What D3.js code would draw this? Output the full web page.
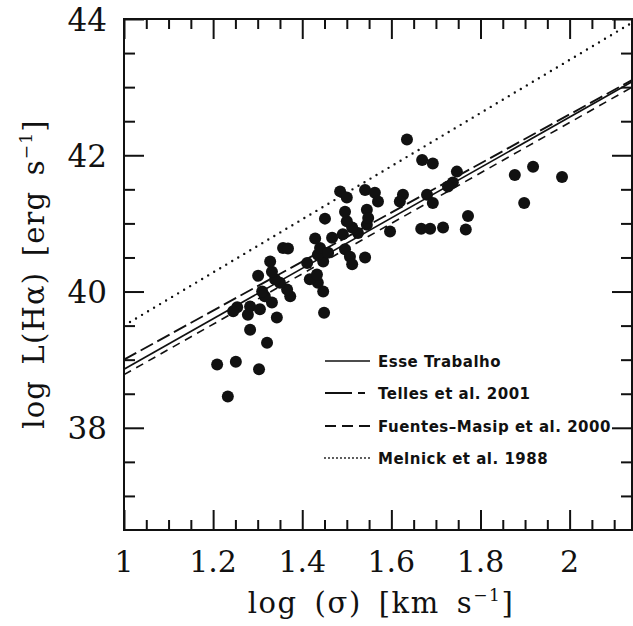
<!DOCTYPE html>
<html>
<head>
<meta charset="utf-8">
<script src="https://cdn.jsdelivr.net/npm/d3@7"></script>
<style>
  html, body { margin: 0; padding: 0; background: #fff; }
  svg { display: block; }
</style>
</head>
<body>
<svg id="chart" width="633" height="626"></svg>
<script>
// Hα luminosity versus velocity dispersion (log-log), with published fits.
const logSigma = [
  1.233, 1.209, 1.251, 1.303, 1.321, 1.283, 1.343, 1.278, 1.283, 1.254,
  1.245, 1.305, 1.332, 1.316, 1.310, 1.373, 1.366, 1.350, 1.339, 1.332,
  1.301, 1.328, 1.357, 1.368, 1.449, 1.447, 1.435, 1.417, 1.433, 1.411,
  1.447, 1.435, 1.440, 1.458, 1.429, 1.467, 1.491, 1.496, 1.507, 1.512,
  1.541, 1.525, 1.512, 1.500, 1.451, 1.545, 1.496, 1.545, 1.548, 1.485,
  1.500, 1.541, 1.563, 1.570, 1.597, 1.626, 1.619, 1.680, 1.693, 1.635,
  1.669, 1.693, 1.747, 1.738, 1.727, 1.667, 1.687, 1.716, 1.767, 1.772,
  1.877, 1.918, 1.983, 1.898
];
const logLHa = [
  38.46, 38.93, 38.97, 38.86, 39.25, 39.44, 39.62, 39.66, 39.78, 39.77,
  39.71, 39.74, 39.84, 39.93, 40.00, 39.93, 40.03, 40.13, 40.18, 40.29,
  40.23, 40.44, 40.64, 40.63, 39.69, 40.00, 40.13, 40.18, 40.25, 40.42,
  40.44, 40.54, 40.64, 40.57, 40.78, 40.79, 40.84, 40.62, 40.51, 40.40,
  40.50, 40.86, 40.94, 41.03, 41.07, 40.98, 41.17, 41.20, 41.08, 41.47,
  41.38, 41.49, 41.45, 41.32, 40.88, 41.42, 41.32, 41.42, 41.30, 42.23,
  41.93, 41.88, 41.76, 41.60, 41.54, 40.92, 40.92, 40.94, 40.91, 41.11,
  41.71, 41.83, 41.68, 41.30
];

// Linear fits: log L = slope * log sigma + intercept
const fitNames = ["Esse Trabalho", "Telles et al. 2001", "Fuentes–Masip et al. 2000", "Melnick et al. 1988"];
const fitSlopes = [3.70, 3.60, 3.70, 3.90];
const fitIntercepts = [35.16, 35.40, 35.08, 35.60];

const xTickLabels = [1, 1.2, 1.4, 1.6, 1.8, 2];
const yTickLabels = [38, 40, 42, 44];

// --- layout ---
const svg = d3.select("#chart");
const L = 124, R = 632, T = 19, B = 530;
const x = d3.scaleLinear().domain([1, 2.14]).range([L, R]);
const y = d3.scaleLinear().domain([36.5, 44]).range([B, T]);
const ink = "#111";

svg.append("rect").attr("width", 633).attr("height", 626).attr("fill", "#fff");

svg.append("clipPath").attr("id", "plotClip")
  .append("rect").attr("x", L).attr("y", T).attr("width", R - L).attr("height", B - T);

// line styles for each fit
const fitStyles = [
  { dash: null, width: 1.6, cap: "butt" },
  { dash: "14,5", width: 1.9, cap: "butt" },
  { dash: "8,6", width: 1.6, cap: "butt" },
  { dash: "0,7", width: 2.4, cap: "round" }
];
const legendDash = [null, "27,6,7,200", "11,6", "0,4"];
const legendWidth = [1.4, 2, 1.8, 1.8];

// fit lines
const plot = svg.append("g").attr("clip-path", "url(#plotClip)");
const xs = [1, 2.14];
fitNames.forEach((name, i) => {
  const line = d3.line().x(d => x(d)).y(d => y(fitSlopes[i] * d + fitIntercepts[i]));
  plot.append("path")
    .attr("d", line(xs))
    .attr("fill", "none")
    .attr("stroke", ink)
    .attr("stroke-width", fitStyles[i].width)
    .attr("stroke-linecap", fitStyles[i].cap)
    .attr("stroke-dasharray", fitStyles[i].dash);
});

// data points
plot.selectAll("circle.pt")
  .data(d3.range(logSigma.length))
  .join("circle")
  .attr("class", "pt")
  .attr("cx", i => x(logSigma[i]))
  .attr("cy", i => y(logLHa[i]))
  .attr("r", 6)
  .attr("fill", ink);

// --- axes: ticks on all four sides, pointing inward ---
const xMajor = xTickLabels;
const xMinor = d3.range(1.05, 2.14, 0.05).filter(v => Math.abs(v * 5 - Math.round(v * 5)) > 1e-6);
const yMajor = yTickLabels;
const yMinor = d3.range(37, 44, 0.5).filter(v => Math.abs(v / 2 - Math.round(v / 2)) > 1e-6);

function styleAxis(g) {
  g.select(".domain").remove();
  g.selectAll(".tick line").attr("stroke", ink).attr("stroke-width", 2);
}

// bottom
svg.append("g").attr("transform", `translate(0,${B})`)
  .call(d3.axisTop(x).tickValues(xMinor).tickSize(10).tickFormat(""))
  .call(styleAxis);
svg.append("g").attr("transform", `translate(0,${B})`)
  .call(d3.axisTop(x).tickValues(xMajor).tickSize(20).tickFormat(""))
  .call(styleAxis);
// top
svg.append("g").attr("transform", `translate(0,${T})`)
  .call(d3.axisBottom(x).tickValues(xMinor).tickSize(10).tickFormat(""))
  .call(styleAxis);
svg.append("g").attr("transform", `translate(0,${T})`)
  .call(d3.axisBottom(x).tickValues(xMajor).tickSize(20).tickFormat(""))
  .call(styleAxis);
// left
svg.append("g").attr("transform", `translate(${L},0)`)
  .call(d3.axisRight(y).tickValues(yMinor).tickSize(11).tickFormat(""))
  .call(styleAxis);
svg.append("g").attr("transform", `translate(${L},0)`)
  .call(d3.axisRight(y).tickValues(yMajor).tickSize(20).tickFormat(""))
  .call(styleAxis);
// right
svg.append("g").attr("transform", `translate(${R},0)`)
  .call(d3.axisLeft(y).tickValues(yMinor).tickSize(11).tickFormat(""))
  .call(styleAxis);
svg.append("g").attr("transform", `translate(${R},0)`)
  .call(d3.axisLeft(y).tickValues(yMajor).tickSize(20).tickFormat(""))
  .call(styleAxis);

// frame
svg.append("rect")
  .attr("x", L).attr("y", T).attr("width", R - L).attr("height", B - T)
  .attr("fill", "none").attr("stroke", ink).attr("stroke-width", 2);

// tick labels
const serif = "'DejaVu Serif', serif";
svg.append("g").selectAll("text")
  .data(xTickLabels).join("text")
  .attr("x", d => x(d)).attr("y", 572)
  .attr("text-anchor", "middle")
  .attr("font-family", serif).attr("font-size", 30).attr("fill", ink)
  .text(d => d);
svg.append("g").selectAll("text")
  .data(yTickLabels).join("text")
  .attr("x", 107).attr("y", d => y(d) + 11.5)
  .attr("text-anchor", "end")
  .attr("font-family", serif).attr("font-size", 31).attr("fill", ink)
  .text(d => d);

// axis titles
const xt = svg.append("text")
  .attr("x", 381).attr("y", 613)
  .attr("text-anchor", "middle")
  .attr("font-family", serif).attr("font-size", 29).attr("fill", ink)
  .attr("letter-spacing", 1.6).attr("word-spacing", 6);
xt.append("tspan").text("log (σ) [km s");
xt.append("tspan").attr("font-size", 17).attr("dy", -12).text("−1");
xt.append("tspan").attr("dy", 12).text("]");

const yt = svg.append("text")
  .attr("transform", "translate(44,274) rotate(-90)")
  .attr("text-anchor", "middle")
  .attr("font-family", serif).attr("font-size", 29).attr("fill", ink)
  .attr("letter-spacing", 1.2).attr("word-spacing", 5);
yt.append("tspan").text("log L(Hα) [erg s");
yt.append("tspan").attr("font-size", 17).attr("dy", -12).text("−1");
yt.append("tspan").attr("dy", 12).text("]");

// legend
const legRows = [361, 393, 426, 458];
const leg = svg.append("g");
fitNames.forEach((name, i) => {
  leg.append("line")
    .attr("x1", 325).attr("x2", 370)
    .attr("y1", legRows[i]).attr("y2", legRows[i])
    .attr("stroke", ink)
    .attr("stroke-width", legendWidth[i])
    .attr("stroke-linecap", i === 3 ? "round" : "butt")
    .attr("stroke-dasharray", legendDash[i]);
  leg.append("text")
    .attr("x", 378).attr("y", legRows[i] + 5.5)
    .attr("font-family", "'DejaVu Sans', sans-serif")
    .attr("font-weight", "bold")
    .attr("font-size", 15)
    .attr("letter-spacing", 0.5)
    .attr("fill", ink)
    .text(name);
});
</script>
</body>
</html>
